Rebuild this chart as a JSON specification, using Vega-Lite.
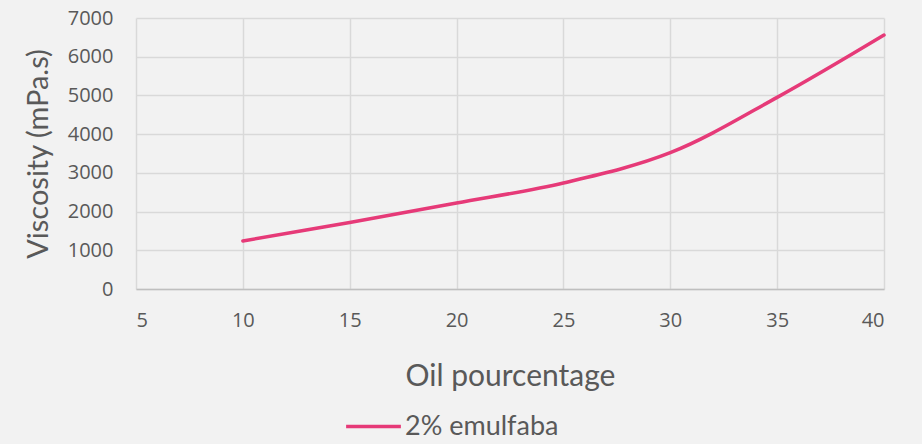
{
  "$schema": "https://vega.github.io/schema/vega-lite/v6.json",
  "autosize": {"type": "none"},
  "width": 748,
  "height": 271,
  "padding": {"left": 136, "top": 18, "right": 38, "bottom": 155},
  "background": "#f2f2f2",
  "config": {
    "view": {"stroke": null},
    "font": "Lato"
  },
  "data": {
    "values": [
      {"oil": 10, "viscosity": 1240, "series": "2% emulfaba"},
      {"oil": 15, "viscosity": 1720, "series": "2% emulfaba"},
      {"oil": 20, "viscosity": 2220, "series": "2% emulfaba"},
      {"oil": 25, "viscosity": 2740, "series": "2% emulfaba"},
      {"oil": 30, "viscosity": 3520, "series": "2% emulfaba"},
      {"oil": 35, "viscosity": 4950, "series": "2% emulfaba"},
      {"oil": 40, "viscosity": 6560, "series": "2% emulfaba"}
    ]
  },
  "mark": {"type": "line", "interpolate": "catmull-rom", "strokeWidth": 3.5, "strokeCap": "round"},
  "encoding": {
    "x": {
      "field": "oil", "type": "quantitative",
      "scale": {"domain": [5, 40], "nice": false, "zero": false},
      "axis": {
        "title": "Oil pourcentage",
        "values": [5, 10, 15, 20, 25, 30, 35, 40],
        "format": "d",
        "ticks": false,
        "labelPadding": 21,
        "labelFontSize": 20,
        "labelColor": "#595959",
        "labelFont": "Open Sans",
        "titleFontSize": 30,
        "titleFontWeight": "normal",
        "titleColor": "#595959",
        "titleBaseline": "middle",
        "titleY": 87,
        "domainColor": "#bfbfbf",
        "domainWidth": 1.5,
        "gridColor": "#d9d9d9",
        "gridWidth": 1.5
      }
    },
    "y": {
      "field": "viscosity", "type": "quantitative",
      "scale": {"domain": [0, 7000], "nice": false},
      "axis": {
        "title": "Viscosity (mPa.s)",
        "values": [0, 1000, 2000, 3000, 4000, 5000, 6000, 7000],
        "format": "d",
        "ticks": false,
        "domain": false,
        "labelPadding": 23,
        "labelFontSize": 20,
        "labelColor": "#595959",
        "labelFont": "Open Sans",
        "titleFontSize": 29,
        "titleFontWeight": "normal",
        "titleColor": "#595959",
        "titleBaseline": "middle",
        "titleX": -98,
        "gridColor": "#d9d9d9",
        "gridWidth": 1.5
      }
    },
    "color": {
      "field": "series", "type": "nominal",
      "scale": {"range": ["#e63a78"]},
      "legend": {
        "title": null,
        "orient": "none",
        "legendX": 208,
        "legendY": 379,
        "symbolType": "stroke",
        "symbolSize": 3000,
        "symbolStrokeWidth": 3.5,
        "labelFontSize": 27,
        "labelColor": "#595959",
        "labelOffset": 2
      }
    }
  }
}
